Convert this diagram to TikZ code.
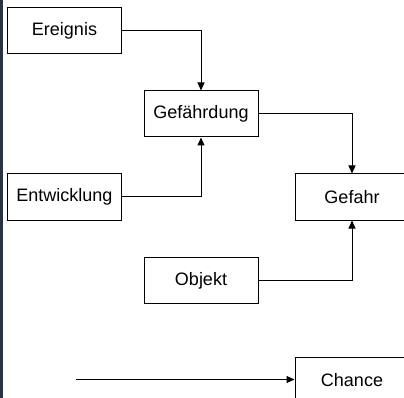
\documentclass[tikz,border=0pt]{standalone}
\usepackage{fontspec}
\setmainfont{Liberation Sans}
\usetikzlibrary{arrows.meta}
\definecolor{stripcol}{RGB}{40,52,68}
\begin{document}
\begin{tikzpicture}[x=1pt,y=-1pt,
  box/.style={draw=black, line width=1pt, rectangle, minimum width=114pt, minimum height=46pt, inner sep=0pt, font=\fontsize{18}{20}\selectfont},
  conn/.style={draw=black, line width=1pt, -{Triangle[length=8pt,width=7pt]}}]
\clip (0,0) rectangle (404,398);
\fill[white] (0,0) rectangle (404,398);
\fill[stripcol] (0,0) rectangle (3,398);
\node[box] (ereignis) at (64.5,30.5) {Ereignis};
\node[box] (gefaehrdung) at (201,114) {Gefährdung};
\node[box] (entwicklung) at (64.5,197) {Entwicklung};
\node[box] (gefahr) at (352,197) {Gefahr};
\node[box] (objekt) at (201,280.5) {Objekt};
\node[box] (chance) at (352,380) {Chance};
\coordinate (start) at (76,379.5);
\draw[conn] (ereignis.east) -| (gefaehrdung.north);
\draw[conn] (entwicklung.east) -| (gefaehrdung.south);
\draw[conn] (gefaehrdung.east) -| (gefahr.north);
\draw[conn] (objekt.east) -| (gefahr.south);
\draw[conn] (start) -- (start -| chance.west);
\end{tikzpicture}
\end{document}
